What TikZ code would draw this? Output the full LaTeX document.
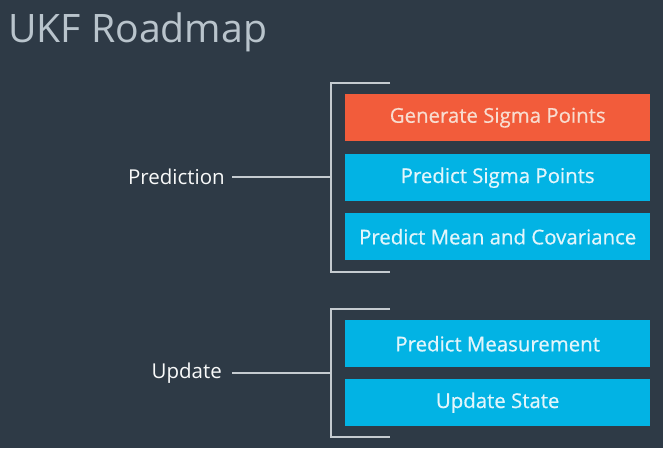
\documentclass[tikz,border=0pt]{standalone}
\usepackage{fontspec}
\setmainfont{Open Sans}
\newfontfamily\semib[FakeBold=0.6]{Open Sans}
\definecolor{bg}{HTML}{2E3A46}
\definecolor{orng}{HTML}{F25C3B}
\definecolor{blu}{HTML}{02B3E4}
\definecolor{ln}{HTML}{C5CBD0}
\definecolor{ttl}{HTML}{B9C4CC}
\definecolor{otxt}{HTML}{F8DCCF}
\definecolor{btxt}{HTML}{E2F5FB}
\begin{document}
\begin{tikzpicture}[x=1pt,y=-1pt,
  stepbox/.style={minimum width=305pt,minimum height=47pt,inner sep=0pt,font=\semib\fontsize{20.4}{24}\selectfont,anchor=north west},
  bluebox/.style={stepbox,fill=blu,text=btxt},
  orbox/.style={stepbox,fill=orng,text=otxt},
  brk/.style={draw=ln,line width=2pt},
  lbl/.style={text=white!90!ln,font=\fontsize{20.5}{24}\selectfont}]
\fill[bg] (0,0) rectangle (663,448);
\useasboundingbox (0,0) rectangle (663,448);
\node[anchor=base west,text=ttl,font=\fontsize{39.2}{44}\selectfont,inner sep=0pt] (title) at (8,42) {UKF Roadmap};
\node[orbox] (gen) at (345,94) {Generate Sigma Points};
\node[bluebox] (pred) at (345,154) {Predict Sigma Points};
\node[bluebox] (mean) at (345,213) {Predict Mean and Covariance};
\node[bluebox] (meas) at (345,320) {Predict Measurement};
\node[bluebox] (upd) at (345,379) {Update State};
\coordinate (pt1) at (390,83);
\coordinate (pt2) at (331,83);
\coordinate (pb2) at (331,272);
\coordinate (pb1) at (390,272);
\coordinate (pm) at (331,177);
\coordinate (ut1) at (390,309);
\coordinate (ut2) at (331,309);
\coordinate (ub2) at (331,437);
\coordinate (ub1) at (390,437);
\coordinate (um) at (331,373);
\node[lbl,anchor=east,inner sep=0pt] (plbl) at (225,177) {Prediction};
\node[lbl,anchor=east,inner sep=0pt] (ulbl) at (222,373) {Update};
\draw[brk] (pt1) -- (pt2) -- (pb2) -- (pb1);
\draw[brk] (ut1) -- (ut2) -- (ub2) -- (ub1);
\draw[brk] ([xshift=7pt]plbl.east) -- (pm);
\draw[brk] ([xshift=10pt]ulbl.east) -- (um);
\end{tikzpicture}
\end{document}
